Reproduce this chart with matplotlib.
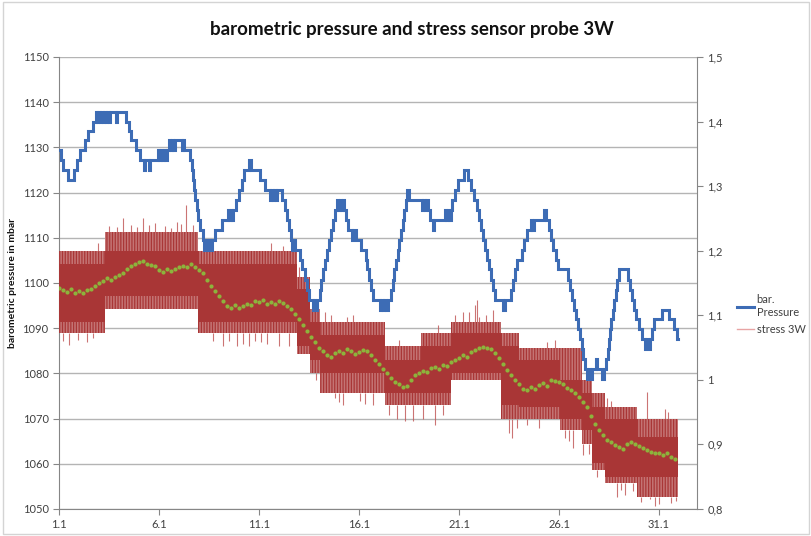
import numpy as np
import matplotlib.pyplot as plt
from matplotlib.patches import Rectangle
from matplotlib.lines import Line2D

plt.rcParams['font.family'] = ['Lato', 'DejaVu Sans']
plt.rcParams['hatch.linewidth'] = 0.9

# x axis: days after 1.1
day_ticks = [0, 5, 10, 15, 20, 25, 30]
day_labels = ['1.1', '6.1', '11.1', '16.1', '21.1', '26.1', '31.1']

# barometric pressure (mbar), stepped
press_day = [0.00, 0.09, 0.19, 0.44, 0.74, 0.89, 1.04, 1.29, 1.44, 1.69,
             1.84, 1.89, 1.94, 2.04, 2.09, 2.19, 2.24, 2.34, 2.39, 2.49,
             2.54, 2.84, 2.89, 3.34, 3.49, 3.59, 3.84, 4.04, 4.24, 4.29,
             4.49, 4.54, 4.94, 4.99, 5.09, 5.14, 5.24, 5.29, 5.39, 5.49,
             5.54, 5.64, 5.69, 5.79, 6.14, 6.19, 6.24, 6.54, 6.64, 6.69,
             6.74, 6.79, 6.89, 6.94, 7.04, 7.19, 7.24, 7.34, 7.39, 7.49,
             7.54, 7.64, 7.79, 8.14, 8.44, 8.49, 8.59, 8.64, 8.69, 8.84,
             8.99, 9.14, 9.24, 9.49, 9.59, 10.04, 10.29, 10.54, 10.59, 10.69,
             10.74, 10.84, 10.89, 11.14, 11.29, 11.39, 11.49, 11.59, 11.64, 11.74,
             11.79, 12.04, 12.14, 12.29, 12.39, 12.49, 12.69, 12.74, 12.79, 12.89,
             13.04, 13.09, 13.19, 13.29, 13.39, 13.49, 13.59, 13.69, 13.79, 13.89,
             13.94, 14.04, 14.09, 14.19, 14.24, 14.34, 14.44, 14.64, 14.69, 14.84,
             15.09, 15.34, 15.39, 15.49, 15.59, 15.69, 16.04, 16.09, 16.19, 16.24,
             16.34, 16.44, 16.59, 16.69, 16.74, 16.84, 16.94, 16.99, 17.09, 17.19,
             17.24, 17.34, 17.39, 17.49, 18.14, 18.19, 18.29, 18.34, 18.44, 18.54,
             18.69, 18.74, 19.29, 19.34, 19.44, 19.49, 19.59, 19.64, 19.79, 19.94,
             20.24, 20.44, 20.59, 20.74, 20.89, 20.99, 21.09, 21.19, 21.29, 21.39,
             21.49, 21.59, 21.69, 21.79, 22.19, 22.29, 22.59, 22.69, 22.79, 22.89,
             23.14, 23.24, 23.39, 23.59, 23.64, 23.74, 24.24, 24.34, 24.49, 24.59,
             24.69, 24.84, 24.94, 25.44, 25.54, 25.64, 25.74, 25.84, 25.94, 26.04,
             26.14, 26.19, 26.29, 26.39, 26.44, 26.54, 26.64, 26.84, 26.89, 27.14,
             27.24, 27.34, 27.44, 27.49, 27.54, 27.59, 27.69, 27.74, 27.84, 27.89,
             27.99, 28.44, 28.54, 28.64, 28.74, 28.84, 28.99, 29.14, 29.29, 29.34,
             29.49, 29.54, 29.64, 29.74, 30.14, 30.49, 30.74, 30.89, 30.94]
press_mbar = [1129.4, 1127.2, 1125.0, 1122.8, 1125.0, 1127.2, 1129.4, 1131.6, 1133.7, 1135.7,
              1137.9, 1135.7, 1137.9, 1135.7, 1137.9, 1135.7, 1137.9, 1135.7, 1137.9, 1135.7,
              1137.9, 1135.7, 1137.9, 1135.7, 1133.7, 1131.6, 1129.4, 1127.2, 1125.0, 1127.2,
              1125.0, 1127.2, 1129.4, 1127.2, 1129.4, 1127.2, 1129.4, 1127.2, 1129.4, 1131.6,
              1129.4, 1131.6, 1129.4, 1131.6, 1129.4, 1131.6, 1129.4, 1127.2, 1125.0, 1122.8,
              1120.6, 1118.4, 1116.2, 1114.0, 1111.7, 1109.5, 1107.3, 1109.5, 1107.3, 1109.5,
              1107.3, 1109.5, 1111.7, 1114.0, 1116.2, 1114.0, 1116.2, 1114.0, 1116.2, 1118.4,
              1120.6, 1122.8, 1125.0, 1127.2, 1125.0, 1122.8, 1120.6, 1118.4, 1120.6, 1118.4,
              1120.6, 1118.4, 1120.6, 1118.4, 1116.2, 1114.0, 1111.7, 1109.5, 1107.3, 1109.5,
              1107.3, 1105.1, 1103.0, 1100.7, 1098.5, 1096.3, 1094.1, 1096.3, 1094.1, 1096.3,
              1098.5, 1100.7, 1103.0, 1105.1, 1107.3, 1109.5, 1111.7, 1114.0, 1116.2, 1118.4,
              1116.2, 1118.4, 1116.2, 1118.4, 1116.2, 1114.0, 1111.7, 1109.5, 1111.7, 1109.5,
              1107.3, 1105.1, 1103.0, 1100.7, 1098.5, 1096.3, 1094.1, 1096.3, 1094.1, 1096.3,
              1094.1, 1096.3, 1098.5, 1100.7, 1103.0, 1105.1, 1107.3, 1109.5, 1111.7, 1114.0,
              1116.2, 1118.4, 1120.6, 1118.4, 1116.2, 1118.4, 1116.2, 1118.4, 1116.2, 1114.0,
              1111.7, 1114.0, 1116.2, 1114.0, 1116.2, 1114.0, 1116.2, 1118.4, 1120.6, 1122.8,
              1125.0, 1122.8, 1120.6, 1118.4, 1116.2, 1114.0, 1111.7, 1109.5, 1107.3, 1105.1,
              1103.0, 1100.7, 1098.5, 1096.3, 1094.1, 1096.3, 1098.5, 1100.7, 1103.0, 1105.1,
              1107.3, 1109.5, 1111.7, 1114.0, 1111.7, 1114.0, 1116.2, 1114.0, 1111.7, 1109.5,
              1107.3, 1105.1, 1103.0, 1100.7, 1098.5, 1096.3, 1094.1, 1092.0, 1089.8, 1087.6,
              1085.4, 1083.2, 1081.0, 1078.8, 1081.0, 1078.8, 1081.0, 1083.2, 1081.0, 1078.8,
              1081.0, 1083.2, 1085.4, 1087.6, 1089.8, 1092.0, 1094.1, 1096.3, 1098.5, 1100.7,
              1103.0, 1100.7, 1098.5, 1096.3, 1094.1, 1092.0, 1089.8, 1087.6, 1085.4, 1087.6,
              1085.4, 1087.6, 1089.8, 1092.0, 1094.1, 1092.0, 1089.8, 1087.6, 1087.6]

# stress 3W: dense band per period (core = solid, outer = sparse stripes)
band_start = [0.00, 2.30, 6.95, 11.90, 12.55, 13.05, 16.30, 18.10, 19.60, 22.10,
              23.00, 25.03, 26.13, 26.63, 27.30, 28.90]
band_end = 30.95
core_lo = [1.090, 1.130, 1.090, 1.052, 1.031, 1.010, 0.979, 0.979, 1.010, 0.961,
           0.958, 0.940, 0.922, 0.871, 0.850, 0.850]
core_hi = [1.179, 1.200, 1.179, 1.140, 1.090, 1.070, 1.031, 1.052, 1.072, 1.052,
           1.031, 1.000, 0.979, 0.958, 0.940, 0.912]
outer_lo = [1.072, 1.110, 1.072, 1.040, 1.010, 0.979, 0.961, 0.961, 0.999, 0.940,
            0.940, 0.922, 0.900, 0.860, 0.840, 0.819]
outer_hi = [1.200, 1.229, 1.200, 1.160, 1.110, 1.090, 1.052, 1.072, 1.090, 1.072,
            1.049, 1.049, 1.000, 0.980, 0.958, 0.940]

# single outlier readings of stress 3W
spike_day = [0.2, 0.5, 0.95, 1.4, 1.7, 1.95, 2.5, 2.9, 3.2, 3.6,
             3.9, 4.2, 4.5, 4.8, 5.3, 5.6, 5.9, 6.1, 6.35, 6.7,
             7.3, 7.7, 8.2, 8.5, 8.9, 9.2, 9.5, 9.8, 10.1, 10.4,
             10.6, 11.0, 11.2, 11.5, 12.0, 12.85, 13.3, 13.6, 13.8, 14.0,
             14.2, 14.4, 14.7, 15.05, 15.3, 15.7, 16.5, 16.9, 17.0, 17.3,
             17.7, 18.2, 18.8, 18.95, 19.2, 19.8, 20.2, 20.5, 20.8, 20.9,
             21.0, 21.35, 21.7, 22.5, 22.65, 22.9, 23.4, 24.0, 24.4, 24.8,
             25.3, 25.5, 25.7, 26.2, 26.5, 26.9, 27.4, 27.6, 27.9, 28.1,
             28.3, 28.7, 29.1, 29.4, 29.55, 29.8, 30.0, 30.3, 30.45, 30.6,
             30.85]
spike_lo = [1.060, 1.054, 1.062, 1.058, 1.065, 1.200, 1.229, 1.229, 1.229, 1.229,
            1.229, 1.229, 1.229, 1.229, 1.229, 1.229, 1.229, 1.229, 1.229, 1.229,
            1.200, 1.060, 1.052, 1.060, 1.052, 1.056, 1.052, 1.060, 1.058, 1.055,
            1.200, 1.052, 1.200, 1.052, 1.160, 1.000, 1.090, 1.090, 0.972, 0.965,
            0.961, 1.090, 1.090, 0.968, 0.962, 0.961, 0.945, 0.940, 1.052, 0.937,
            0.937, 0.940, 0.930, 1.072, 0.945, 1.090, 1.090, 1.090, 1.090, 1.090,
            1.090, 1.090, 1.090, 0.918, 0.910, 0.925, 0.930, 0.925, 1.049, 1.049,
            0.910, 0.905, 0.894, 0.884, 0.885, 0.850, 0.958, 0.958, 0.818, 0.830,
            0.822, 0.828, 0.811, 0.940, 0.815, 0.804, 0.808, 0.940, 0.940, 0.810,
            0.812]
spike_hi = [1.072, 1.072, 1.072, 1.072, 1.072, 1.212, 1.238, 1.236, 1.250, 1.240,
            1.236, 1.250, 1.240, 1.243, 1.238, 1.235, 1.245, 1.242, 1.271, 1.240,
            1.215, 1.072, 1.072, 1.072, 1.072, 1.072, 1.072, 1.072, 1.072, 1.072,
            1.212, 1.072, 1.208, 1.072, 1.175, 1.010, 1.105, 1.100, 0.979, 0.979,
            0.979, 1.098, 1.100, 0.979, 0.979, 0.979, 0.961, 0.961, 1.062, 0.961,
            0.961, 0.961, 0.961, 1.085, 0.961, 1.100, 1.105, 1.105, 1.116, 1.124,
            1.098, 1.100, 1.108, 0.940, 0.940, 0.940, 0.940, 0.940, 1.058, 1.062,
            0.922, 0.922, 0.922, 0.900, 0.900, 0.860, 0.972, 0.968, 0.840, 0.840,
            0.840, 0.840, 0.819, 0.981, 0.819, 0.819, 0.819, 0.955, 0.950, 0.819,
            0.819]

# moving average of stress 3W, one value every 0.2 day
avg_step = 0.2
avg_vals = [1.142, 1.139, 1.136, 1.140, 1.134, 1.137, 1.135, 1.139, 1.141, 1.146,
            1.150, 1.153, 1.157, 1.155, 1.160, 1.163, 1.166, 1.172, 1.177, 1.180,
            1.182, 1.184, 1.180, 1.178, 1.176, 1.170, 1.167, 1.171, 1.168, 1.172,
            1.174, 1.177, 1.175, 1.179, 1.174, 1.170, 1.165, 1.155, 1.146, 1.137,
            1.130, 1.122, 1.115, 1.112, 1.116, 1.111, 1.114, 1.118, 1.116, 1.122,
            1.120, 1.124, 1.118, 1.121, 1.117, 1.122, 1.119, 1.114, 1.110, 1.102,
            1.094, 1.085, 1.075, 1.066, 1.058, 1.050, 1.044, 1.038, 1.036, 1.042,
            1.045, 1.041, 1.047, 1.044, 1.040, 1.043, 1.046, 1.044, 1.038, 1.031,
            1.024, 1.017, 1.010, 1.003, 0.997, 0.993, 0.989, 0.991, 1.000, 1.007,
            1.011, 1.014, 1.012, 1.018, 1.020, 1.017, 1.023, 1.021, 1.028, 1.031,
            1.034, 1.038, 1.036, 1.043, 1.046, 1.049, 1.051, 1.050, 1.048, 1.041,
            1.034, 1.025, 1.016, 1.008, 0.999, 0.993, 0.986, 0.984, 0.989, 0.986,
            0.992, 0.995, 0.991, 1.000, 0.998, 0.996, 0.993, 0.988, 0.985, 0.979,
            0.974, 0.966, 0.958, 0.944, 0.932, 0.923, 0.915, 0.907, 0.903, 0.899,
            0.896, 0.893, 0.901, 0.904, 0.900, 0.898, 0.895, 0.891, 0.889, 0.886,
            0.887, 0.884, 0.886, 0.881, 0.877]
avg_day = np.arange(len(avg_vals)) * avg_step

RED = '#a93636'
BLUE = '#3d6cb5'
GREEN = '#8db33c'
TXT = '#404040'

fig = plt.figure(figsize=(8.12, 5.36), dpi=100)
fig.add_artist(Rectangle((0.004, 0.004), 0.992, 0.992, transform=fig.transFigure,
                         fill=False, edgecolor='#d4d4d4', lw=1))

ax = fig.add_axes([0.0727, 0.0504, 0.7857, 0.8433])
ax2 = ax.twinx()
ax3 = ax.twinx()

# left axis: grid + ticks
ax.set_xlim(0, 31.9)
ax.set_ylim(1050, 1150)
ax.set_yticks(np.arange(1050, 1151, 10))
ax.grid(axis='y', color='#b4b4b4', lw=1)
ax.set_axisbelow(True)
ax.set_xticks(day_ticks)
ax.set_xticklabels(day_labels)
ax.tick_params(labelsize=8, length=4, width=0.8, colors='#868686', labelcolor=TXT)
ax.set_ylabel('barometric pressure in mbar', fontsize=7.5, fontweight='bold',
              labelpad=4, color='#111111')
for s in ['top', 'right']:
    ax.spines[s].set_visible(False)
for s in ['left', 'bottom']:
    ax.spines[s].set_color('#868686')

# right axis: stress
stress_ticks = np.arange(0.8, 1.51, 0.1)
ax2.set_ylim(0.8, 1.5)
ax2.set_yticks(stress_ticks)
ax2.set_yticklabels([f'{v:.1f}'.replace('.', ',').replace(',0', '') for v in stress_ticks])
ax2.tick_params(axis='y', colors='#868686', labelcolor=TXT, labelsize=8, length=4, width=0.8)
for s in ['top', 'left', 'bottom']:
    ax2.spines[s].set_visible(False)
ax2.spines['right'].set_color('#868686')

edges = band_start + [band_end]
ax2.fill_between(edges, outer_lo + [outer_lo[-1]], outer_hi + [outer_hi[-1]], step='post',
                 facecolor='#c47474', edgecolor=RED, hatch='||||||', lw=0)
ax2.fill_between(edges, core_lo + [core_lo[-1]], core_hi + [core_hi[-1]], step='post',
                 color=RED, lw=0)
ax2.vlines(spike_day, spike_lo, spike_hi, color='#c25c5c', lw=0.8, alpha=0.85)
ax2.plot(avg_day, avg_vals, 'o', color=GREEN, ms=3, mew=0)

# pressure on top
ax3.set_ylim(1050, 1150)
ax3.axis('off')
ax3.plot(press_day, press_mbar, drawstyle='steps-post', color=BLUE, lw=2.2,
         solid_joinstyle='miter')

fig.text(0.507, 0.945, 'barometric pressure and stress sensor probe 3W',
         ha='center', va='center', fontsize=13.5, fontweight='bold', color='#111111')

handles = [Line2D([], [], color=BLUE, lw=2.2), Line2D([], [], color='#e8a4a4', lw=1)]
fig.legend(handles, ['bar.\nPressure', 'stress 3W'], loc='upper left',
           bbox_to_anchor=(0.905, 0.455), frameon=False, fontsize=8,
           handlelength=1.5, handletextpad=0.25, labelspacing=0.5, labelcolor=TXT,
           borderaxespad=0, borderpad=0.2)

fig.savefig('out.png', dpi=100)
